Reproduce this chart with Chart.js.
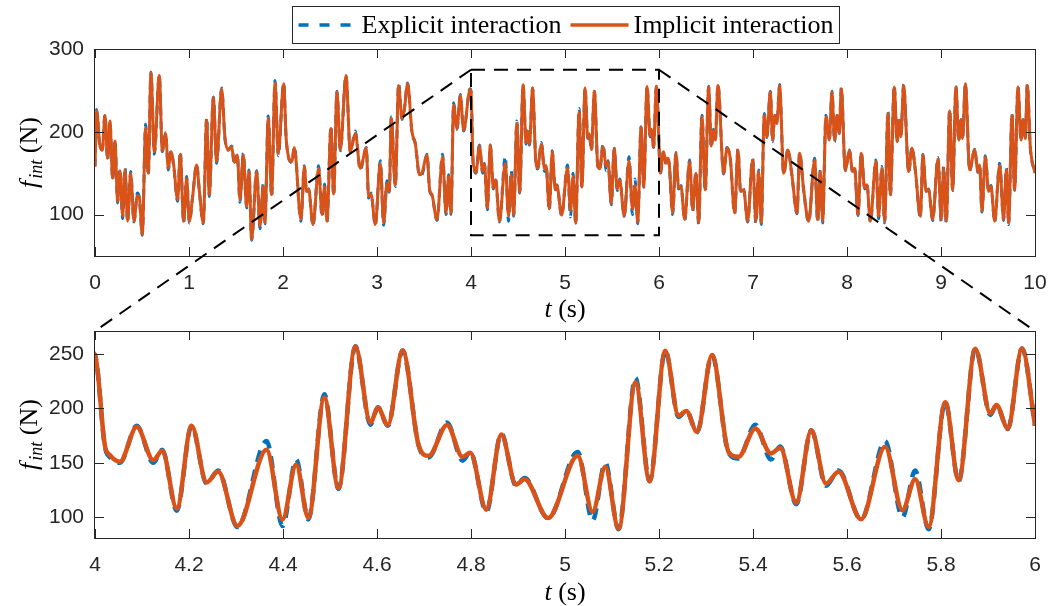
<!DOCTYPE html>
<html>
<head>
<meta charset="utf-8">
<script src="https://cdn.jsdelivr.net/npm/chart.js@4.4.1/dist/chart.umd.min.js"></script>
<style>
    html, body { margin: 0; background: #fff; }
    #wrap { position: relative; width: 1048px; height: 606px; }
    canvas { position: absolute; left: 0; }
</style>
</head>
<body>
<div id="wrap">
    <canvas id="overview" width="1048" height="331" style="top:0"></canvas>
    <canvas id="detail" width="1048" height="275" style="top:331px"></canvas>
    <canvas id="overlay" width="1048" height="606" style="top:0;pointer-events:none"></canvas>
</div>
<script>
"use strict";

// time (s)
var timeValues = [
    0.000, 0.017, 0.053, 0.078, 0.106, 0.134, 0.159, 0.188, 0.212, 0.241, 0.266, 0.294,
    0.319, 0.347, 0.379, 0.415, 0.450, 0.471, 0.503, 0.539, 0.567, 0.595, 0.631, 0.684,
    0.716, 0.751, 0.780, 0.808, 0.837, 0.879, 0.907, 0.943, 0.975, 1.003, 1.039, 1.081,
    1.109, 1.152, 1.188, 1.216, 1.259, 1.294, 1.347, 1.383, 1.418, 1.454, 1.482, 1.514,
    1.542, 1.578, 1.613, 1.638, 1.666, 1.720, 1.755, 1.790, 1.808, 1.843, 1.879, 1.915,
    1.950, 2.007, 2.035, 2.095, 2.120, 2.191, 2.227, 2.250, 2.272, 2.319, 2.379, 2.415,
    2.443, 2.468, 2.510, 2.539, 2.574, 2.610, 2.670, 2.716, 2.769, 2.822, 2.886, 2.911,
    2.936, 2.982, 3.035, 3.071, 3.106, 3.131, 3.152, 3.195, 3.230, 3.266, 3.290, 3.326,
    3.372, 3.407, 3.453, 3.478, 3.532, 3.560, 3.585, 3.638, 3.698, 3.734, 3.762, 3.787,
    3.815, 3.851, 3.886, 3.922, 3.990, 4.000, 4.021, 4.032, 4.053, 4.089, 4.124, 4.143,
    4.174, 4.2055, 4.2375, 4.262, 4.303, 4.365, 4.399, 4.428, 4.454, 4.488, 4.518, 4.554,
    4.586, 4.602, 4.623, 4.6545, 4.6885, 4.710, 4.749, 4.782, 4.7985, 4.8326, 4.8645, 4.8957,
    4.914, 4.964, 5.027, 5.0587, 5.0857, 5.114, 5.150, 5.180, 5.2134, 5.2417, 5.258, 5.281,
    5.3128, 5.348, 5.369, 5.405, 5.438, 5.458, 5.492, 5.524, 5.5553, 5.582, 5.630, 5.681,
    5.718, 5.745, 5.7737, 5.809, 5.8375, 5.873, 5.905, 5.918, 5.942, 5.9723, 6.000, 6.012,
    6.049, 6.074, 6.095, 6.110, 6.145, 6.180, 6.209, 6.234, 6.273, 6.326, 6.358, 6.393,
    6.422, 6.457, 6.492, 6.528, 6.556, 6.581, 6.599, 6.627, 6.688, 6.723, 6.758, 6.805,
    6.840, 6.868, 6.900, 6.943, 6.996, 7.031, 7.060, 7.088, 7.120, 7.148, 7.184, 7.209,
    7.230, 7.255, 7.283, 7.326, 7.372, 7.414, 7.468, 7.496, 7.539, 7.592, 7.656, 7.688,
    7.716, 7.741, 7.776, 7.812, 7.840, 7.868, 7.893, 7.918, 7.939, 7.982, 8.026, 8.060,
    8.081, 8.117, 8.152, 8.188, 8.212, 8.248, 8.308, 8.336, 8.372, 8.400, 8.436, 8.461,
    8.503, 8.532, 8.556, 8.574, 8.602, 8.656, 8.691, 8.727, 8.780, 8.808, 8.840, 8.868,
    8.911, 8.968, 9.003, 9.028, 9.056, 9.092, 9.124, 9.159, 9.188, 9.212, 9.230, 9.259,
    9.305, 9.358, 9.393, 9.411, 9.436, 9.471, 9.507, 9.532, 9.571, 9.624, 9.666, 9.695,
    9.720, 9.755, 9.783, 9.819, 9.851, 9.872, 9.897, 9.918, 9.950, 10.000
];

// implicit interaction force (N)
var implicitValues = [
    158, 225, 183, 178, 220, 168, 213, 144, 189, 116, 153, 98,
    154, 92, 150, 92, 123, 121, 76, 205, 150, 271, 176, 268,
    177, 198, 156, 176, 160, 118, 173, 92, 144, 92, 122, 160,
    130, 90, 214, 124, 241, 164, 252, 192, 178, 182, 163, 172,
    118, 172, 110, 152, 70, 152, 86, 134, 90, 216, 124, 259,
    174, 258, 190, 164, 181, 94, 158, 128, 131, 88, 156, 100,
    134, 92, 204, 125, 248, 178, 268, 176, 198, 156, 180, 122,
    125, 88, 162, 90, 138, 128, 216, 136, 256, 216, 226, 258,
    200, 186, 148, 150, 172, 130, 124, 94, 170, 102, 146, 102,
    232, 204, 244, 202, 251, 249, 166, 157, 151, 183, 152.5, 161,
    108, 184, 132, 142, 92, 162, 98, 148.5, 99.4, 210, 127, 256.7,
    187, 200.6, 184.7, 253, 166.3, 156.4, 184.7, 155.5, 159.2, 107, 176, 130,
    135, 99.4, 156.4, 105, 146.3, 89.6, 224, 133.2, 252.8, 193.2, 197.6, 178.5,
    249, 160, 155.5, 181.6, 158.6, 163.8, 113.2, 180, 131, 141.7, 98.2, 164.7,
    106.5, 135, 91.1, 205.6, 134.1, 254.6, 195.4, 203.1, 181.6, 254.6, 184, 150,
    176, 162, 168, 160, 102, 174, 132, 134, 94, 164, 106, 150,
    90, 218, 130, 254, 183, 202, 190, 256, 150, 180, 168, 102,
    178, 128, 130, 92, 166, 92, 152, 90, 220, 194, 248, 190,
    220, 210, 256, 150, 178, 148, 102, 174, 130, 92, 166, 94,
    152, 92, 218, 190, 248, 190, 220, 198, 252, 154, 177, 152,
    156, 100, 174, 132, 136, 92, 164, 98, 156, 92, 222, 124,
    254, 188, 214, 194, 256, 152, 180, 154, 98, 172, 128, 130,
    94, 167, 94, 156, 92, 225, 130, 254, 190, 214, 192, 258,
    154, 178, 152, 160, 104, 170, 128, 134, 92, 160, 94, 154,
    90, 220, 130, 254, 190, 214, 192, 256, 182, 150
];

// explicit interaction force (N)
var explicitValues = [
    158, 227, 180, 178, 221, 166, 213, 142, 190, 114, 155, 95,
    157, 91, 152, 91, 126, 121, 75, 209, 147, 272, 173, 268,
    176, 199, 154, 177, 159, 116, 176, 90, 146, 90, 122, 161,
    130, 89, 217, 122, 242, 162, 253, 191, 178, 183, 160, 173,
    115, 174, 108, 154, 69, 153, 83, 137, 89, 219, 122, 262,
    171, 259, 189, 163, 182, 92, 159, 127, 131, 87, 159, 97,
    137, 91, 207, 123, 249, 177, 268, 175, 201, 154, 181, 120,
    126, 87, 165, 87, 141, 127, 218, 134, 258, 215, 227, 259,
    199, 186, 147, 148, 173, 129, 123, 93, 173, 100, 148, 100,
    235, 203, 245, 201, 252, 249, 165, 155, 150, 184, 150, 162,
    106, 184, 131, 143, 91, 170, 92, 153, 98, 213, 126, 257,
    185, 201, 184, 253, 166, 155, 187, 152, 160, 105, 177, 129,
    136, 99, 160, 97, 150, 89, 228, 133, 253, 192, 198, 178,
    249, 159, 154, 185, 153, 165, 112, 180, 129, 143, 98, 170,
    100, 143, 89, 206, 133, 255, 194, 203, 181, 255, 184, 148,
    177, 161, 168, 159, 100, 175, 131, 135, 93, 166, 104, 152,
    88, 220, 128, 255, 181, 203, 190, 257, 149, 181, 167, 101,
    179, 127, 131, 91, 168, 89, 154, 88, 222, 193, 249, 188,
    221, 210, 257, 149, 179, 147, 101, 175, 129, 91, 168, 91,
    154, 90, 220, 190, 249, 188, 221, 198, 253, 153, 178, 151,
    156, 99, 175, 131, 137, 91, 166, 95, 158, 90, 224, 123,
    256, 187, 215, 194, 257, 151, 181, 153, 97, 173, 127, 131,
    93, 169, 91, 158, 90, 227, 129, 255, 189, 215, 192, 258,
    153, 179, 151, 160, 103, 171, 127, 135, 91, 162, 93, 156,
    88, 222, 129, 255, 189, 215, 192, 257, 181, 150
];

var overviewXTicks = [0, 1, 2, 3, 4, 5, 6, 7, 8, 9, 10];
var overviewYTicks = [100, 200, 300];
var detailXTicks = [4, 4.2, 4.4, 4.6, 4.8, 5, 5.2, 5.4, 5.6, 5.8, 6];
var detailXLabels = ["4", "4.2", "4.4", "4.6", "4.8", "5", "5.2", "5.4", "5.6", "5.8", "6"];
var detailYTicks = [100, 150, 200, 250];
// zoomed window: t from 4 to 6 s, force from 75 to 275 N
var zoomWindowT = [4, 6];
var zoomWindowF = [75, 275];

var BLUE = "#0072BD";
var ORANGE = "#D95319";
var AXIS_COLOR = "#262626";
var TICK_LEN = 9;
var SERIF = "'Liberation Serif', 'Times New Roman', serif";

var X_TITLE = [
    { text: "t", font: "italic 26px " + SERIF },
    { text: " (s)", font: "26px " + SERIF }
];
var Y_TITLE = [
    { text: "f", font: "italic 26px " + SERIF },
    { text: "int", font: "italic 18px " + SERIF, shift: 5, before: 2 },
    { text: " (N)", font: "26px " + SERIF }
];

Chart.defaults.font.family = "'Liberation Sans', Arial, sans-serif";
Chart.defaults.color = AXIS_COLOR;

function toPoints(xs, ys) {
    var pts = [];
    xs.forEach(function(x, i) {
        pts.push({ x: x, y: ys[i] });
    });
    return pts;
}

function setTicks(values) {
    return function(scale) {
        scale.ticks = values.map(function(v) {
            return { value: v };
        });
    };
}

function fixedSize(size) {
    return function(scale) {
        if (scale.isHorizontal()) {
            scale.height = size;
        } else {
            scale.width = size;
        }
        scale.paddingTop = 0;
        scale.paddingBottom = 0;
        scale.paddingLeft = 0;
        scale.paddingRight = 0;
    };
}

function drawRichText(ctx, parts, x, y, angle) {
    ctx.save();
    ctx.translate(x, y);
    ctx.rotate(angle);
    var total = 0;
    parts.forEach(function(p) {
        ctx.font = p.font;
        p.w = ctx.measureText(p.text).width + (p.before || 0);
        total += p.w;
    });
    var cx = -total / 2;
    ctx.textAlign = "left";
    ctx.textBaseline = "alphabetic";
    ctx.fillStyle = "#000";
    parts.forEach(function(p) {
        ctx.font = p.font;
        ctx.fillText(p.text, cx + (p.before || 0), p.shift || 0);
        cx += p.w;
    });
    ctx.restore();
}

// MATLAB-like box with inward ticks on all four sides
var axisBoxPlugin = {
    id: "axisBox",
    afterDraw: function(chart) {
        var ctx = chart.ctx;
        var a = chart.chartArea;
        var xs = chart.scales.x;
        var ys = chart.scales.y;
        ctx.save();
        ctx.strokeStyle = AXIS_COLOR;
        ctx.lineWidth = 1;
        ctx.beginPath();
        xs.ticks.forEach(function(t) {
            var px = Math.round(xs.getPixelForValue(t.value)) + 0.5;
            ctx.moveTo(px, a.bottom);
            ctx.lineTo(px, a.bottom - TICK_LEN);
            ctx.moveTo(px, a.top);
            ctx.lineTo(px, a.top + TICK_LEN);
        });
        ys.ticks.forEach(function(t) {
            var py = Math.round(ys.getPixelForValue(t.value)) + 0.5;
            ctx.moveTo(a.left, py);
            ctx.lineTo(a.left + TICK_LEN, py);
            ctx.moveTo(a.right, py);
            ctx.lineTo(a.right - TICK_LEN, py);
        });
        ctx.stroke();
        ctx.strokeRect(a.left - 0.5, a.top + 0.5, a.right - a.left + 1, a.bottom - a.top);
        ctx.restore();
    }
};

function axisTitles(xBaseline, yBaseline) {
    return {
        id: "axisTitles",
        afterDraw: function(chart) {
            var a = chart.chartArea;
            drawRichText(chart.ctx, X_TITLE, (a.left + a.right) / 2, a.bottom + xBaseline, 0);
            drawRichText(chart.ctx, Y_TITLE, yBaseline, (a.top + a.bottom) / 2, -Math.PI / 2);
        }
    };
}

// boxed legend above the overview plot, built from the datasets
var boxLegendPlugin = {
    id: "boxLegend",
    afterDraw: function(chart) {
        var ctx = chart.ctx;
        var a = chart.chartArea;
        var sample = 58, gap = 5, between = 9, pad = 6;
        ctx.save();
        ctx.font = "26px " + SERIF;
        var items = chart.data.datasets.map(function(ds) {
            return {
                label: ds.label,
                color: ds.borderColor,
                dash: ds.borderDash ? [10, 11] : [],
                w: ctx.measureText(ds.label).width
            };
        });
        var width = pad * 2;
        items.forEach(function(it, i) {
            width += sample + gap + it.w + (i > 0 ? between : 0);
        });
        var left = Math.round((a.left + a.right) / 2 - width / 2) + 0.5;
        var top = 6.5, height = 37;
        ctx.fillStyle = "#fff";
        ctx.fillRect(left, top, width, height);
        ctx.strokeStyle = AXIS_COLOR;
        ctx.lineWidth = 1;
        ctx.strokeRect(left, top, width, height);
        var x = left + pad;
        var mid = top + height / 2;
        items.forEach(function(it, i) {
            if (i > 0) x += between;
            ctx.beginPath();
            ctx.setLineDash(it.dash);
            ctx.strokeStyle = it.color;
            ctx.lineWidth = 3.5;
            ctx.moveTo(x, mid);
            ctx.lineTo(x + sample, mid);
            ctx.stroke();
            ctx.setLineDash([]);
            x += sample + gap;
            ctx.fillStyle = "#000";
            ctx.textBaseline = "middle";
            ctx.fillText(it.label, x, mid + 1);
            x += it.w;
        });
        ctx.restore();
    }
};

function buildChart(canvasId, cfg) {
    var plugins = [axisBoxPlugin, axisTitles(cfg.titleOffset, 37)];
    if (cfg.legend) plugins.push(boxLegendPlugin);
    return new Chart(document.getElementById(canvasId), {
        type: "line",
        data: {
            datasets: [
                {
                    label: "Explicit interaction",
                    data: toPoints(timeValues, explicitValues),
                    borderColor: BLUE,
                    borderWidth: cfg.lineWidth,
                    borderDash: cfg.dash,
                    order: 2
                },
                {
                    label: "Implicit interaction",
                    data: toPoints(timeValues, implicitValues),
                    borderColor: ORANGE,
                    borderWidth: cfg.lineWidth,
                    borderJoinStyle: "round",
                    order: 1
                }
            ]
        },
        options: {
            responsive: false,
            animation: false,
            events: [],
            layout: { padding: { top: cfg.padTop, right: 13, left: 0, bottom: 0 } },
            elements: {
                point: { radius: 0 },
                line: { cubicInterpolationMode: "monotone", capBezierPoints: false, fill: false }
            },
            plugins: {
                legend: { display: false },
                tooltip: { enabled: false }
            },
            scales: {
                x: {
                    type: "linear",
                    min: cfg.xMin,
                    max: cfg.xMax,
                    grid: { display: false, drawTicks: false },
                    border: { display: false },
                    afterBuildTicks: setTicks(cfg.xTicks),
                    afterFit: fixedSize(cfg.xAxisHeight),
                    ticks: {
                        padding: 15,
                        autoSkip: false,
                        maxRotation: 0,
                        font: { size: 21 },
                        callback: cfg.xLabel
                    }
                },
                y: {
                    min: cfg.yMin,
                    max: cfg.yMax,
                    grid: { display: false, drawTicks: false },
                    border: { display: false },
                    afterBuildTicks: setTicks(cfg.yTicks),
                    afterFit: fixedSize(95),
                    ticks: {
                        padding: 11,
                        autoSkip: false,
                        font: { size: 21 }
                    }
                }
            }
        },
        plugins: plugins
    });
}

var overview = buildChart("overview", {
    padTop: 49, xAxisHeight: 75, titleOffset: 61,
    xMin: 0, xMax: 10, yMin: 50, yMax: 300,
    xTicks: overviewXTicks, yTicks: overviewYTicks,
    xLabel: function(v) { return String(v); },
    lineWidth: 3, dash: [8, 6], legend: true
});

var detail = buildChart("detail", {
    padTop: 0, xAxisHeight: 68, titleOffset: 62,
    xMin: 4, xMax: 6, yMin: 81, yMax: 271,
    xTicks: detailXTicks, yTicks: detailYTicks,
    xLabel: function(v, i) { return detailXLabels[i]; },
    lineWidth: 4.5, dash: [12, 8], legend: false
});

// zoom window in the overview and the dashed connectors to the detail plot
function drawZoomGuides() {
    var ctx = document.getElementById("overlay").getContext("2d");
    var detailTop = document.getElementById("detail").offsetTop;
    var xs = overview.scales.x, ys = overview.scales.y;
    var x0 = xs.getPixelForValue(zoomWindowT[0]);
    var x1 = xs.getPixelForValue(zoomWindowT[1]);
    var y0 = ys.getPixelForValue(zoomWindowF[1]);
    var y1 = ys.getPixelForValue(zoomWindowF[0]);
    var d = detail.chartArea;
    ctx.save();
    ctx.strokeStyle = "#000";
    ctx.lineWidth = 2;
    ctx.setLineDash([14, 9]);
    ctx.beginPath();
    ctx.rect(x0, y0, x1 - x0, y1 - y0);
    ctx.stroke();
    ctx.beginPath();
    ctx.moveTo(x0, y0);
    ctx.lineTo(d.left, d.top + detailTop);
    ctx.moveTo(x1, y0);
    ctx.lineTo(d.right, d.top + detailTop);
    ctx.stroke();
    ctx.restore();
}

drawZoomGuides();
</script>
</body>
</html>
